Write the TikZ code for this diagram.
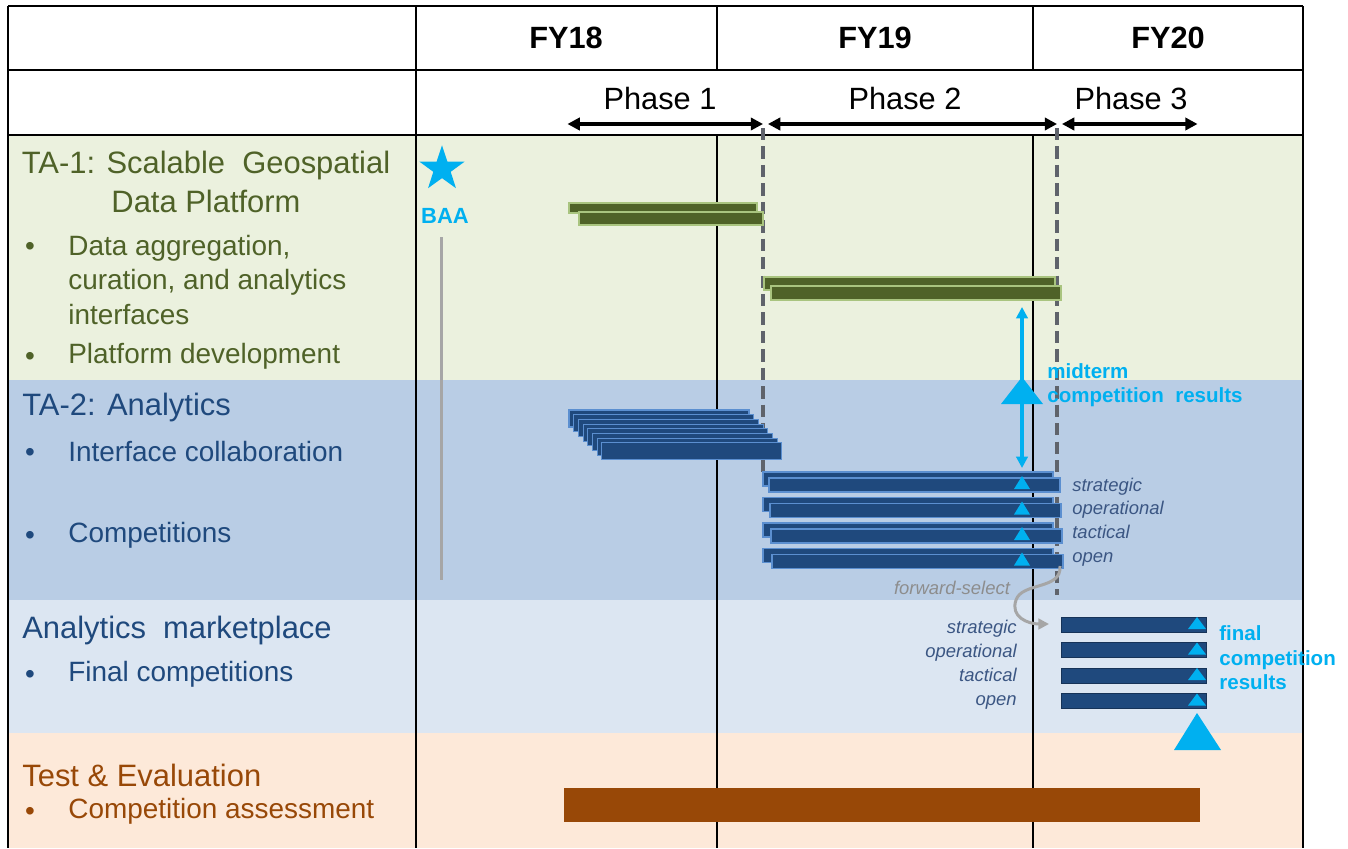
\documentclass[tikz,border=0pt]{standalone}
\usepackage{fontspec}
\setmainfont{Liberation Sans}
\usetikzlibrary{arrows.meta,shapes.geometric}

\definecolor{taGreen}{HTML}{4F6228}
\definecolor{taGreenBg}{HTML}{EBF1DE}
\definecolor{taGreenEdge}{HTML}{A9C47F}
\definecolor{taBlue}{HTML}{1F497D}
\definecolor{taBlueBg}{HTML}{B9CDE5}
\definecolor{taBlueEdge}{HTML}{5B8FD0}
\definecolor{mktBg}{HTML}{DCE6F2}
\definecolor{teBrown}{HTML}{984807}
\definecolor{teBg}{HTML}{FDE9D9}
\definecolor{baaCyan}{HTML}{00B0F0}
\definecolor{trackText}{HTML}{3B5683}
\definecolor{fwdGray}{HTML}{A6A6A6}
\definecolor{phaseDash}{HTML}{5F636B}

\begin{document}
\begin{tikzpicture}[x=0.02cm,y=-0.02cm,
    gridline/.style={line width=0.9pt,black},
    phasearrow/.style={line width=1.8pt,shorten <=1.4pt,shorten >=1.4pt,
      {Triangle[length=7pt,width=7pt]}-{Triangle[length=7pt,width=7pt]}},
    phasedash/.style={line width=1.8pt,phaseDash,dash pattern=on 7pt off 3.5pt},
    greenbar/.style={line width=0.6pt,fill=taGreen,draw=taGreenEdge},
    bluebar/.style={line width=0.6pt,fill=taBlue,draw=taBlueEdge},
    mktbar/.style={line width=0.5pt,fill=taBlue,draw=taBlue!70!black},
    marker/.style={fill=baaCyan},
    heading/.style={anchor=west,inner sep=0pt,font=\fontsize{17.6}{22.7}\selectfont},
    entry/.style={anchor=west,inner sep=0pt,align=left,font=\fontsize{15.9}{19.6}\selectfont},
    dot/.style={inner sep=0pt,yshift=-0.05cm,font=\fontsize{15.9}{19}\selectfont},
    track/.style={inner sep=0pt,text=trackText,font=\fontsize{10.5}{12}\selectfont\itshape},
    note/.style={anchor=west,inner sep=0pt,align=left,text=baaCyan,
      font=\fontsize{11.7}{14}\selectfont\bfseries},
  ]
  \useasboundingbox (0,0) rectangle (1348,848);

  % Row bands
  \fill[white] (0,0) rectangle (1348,848);
  \fill[taGreenBg] (8,135) rectangle (1303,380);
  \fill[taBlueBg] (8,380) rectangle (1303,600);
  \fill[mktBg] (8,600) rectangle (1303,733);
  \fill[teBg] (8,733) rectangle (1303,848);

  % Table grid
  \draw[gridline] (8,6) -- (1303,6);
  \draw[gridline] (8,70) -- (1303,70);
  \draw[gridline,line width=1.2pt] (8,135) -- (1303,135);
  \draw[gridline] (8,6) -- (8,848);
  \draw[gridline] (1303,6) -- (1303,848);
  \draw[gridline] (416,6) -- (416,848);
  \foreach \x in {717,1033} {
    \draw[gridline] (\x,6) -- (\x,70);
    \draw[gridline] (\x,135) -- (\x,848);
  }

  % Fiscal years
  \node[font=\fontsize{17.5}{21}\selectfont\bfseries] (fy18) at (566,38) {FY18};
  \node[font=\fontsize{17.5}{21}\selectfont\bfseries] (fy19) at (875,38) {FY19};
  \node[font=\fontsize{17.5}{21}\selectfont\bfseries] (fy20) at (1168,38) {FY20};

  % Phases and their borders
  \node[font=\fontsize{17.5}{21}\selectfont] (phase1) at (660,99) {Phase 1};
  \node[font=\fontsize{17.5}{21}\selectfont] (phase2) at (905,99) {Phase 2};
  \node[font=\fontsize{17.5}{21}\selectfont] (phase3) at (1131,99) {Phase 3};
  \coordinate (b0) at (565,124);
  \coordinate (b1) at (765.5,124);
  \coordinate (b2) at (1059.5,124);
  \coordinate (b3) at (1200,124);
  \draw[phasedash] (763,128) -- (763,478);
  \draw[phasedash] (1057,128) -- (1057,595);
  \draw[phasearrow] (b0) -- (b1);
  \draw[phasearrow] (b1) -- (b2);
  \draw[phasearrow] (b2) -- (b3);

  % BAA
  \node[star,star points=5,star point ratio=2.6,fill=baaCyan,minimum size=0.95cm,inner sep=0pt] (star) at (442,169) {};
  \node[note,anchor=center,font=\fontsize{12.5}{15}\selectfont\bfseries] (baa) at (445,216) {BAA};
  \coordinate (baatop) at (441,237);
  \coordinate (baabot) at (441,580);
  \draw[fwdGray,line width=1.7pt] (baatop) -- (baabot);

  % TA-1 bars
  \draw[greenbar] (569,203) rectangle (757,213);
  \draw[greenbar] (579,212) rectangle (763,225);
  \draw[greenbar] (764,277) rectangle (1055,290);
  \draw[greenbar] (771,286) rectangle (1061,300);

  % TA-2 interface collaboration
  \foreach \i in {0,...,7}
    \draw[bluebar] (569+4.7*\i,410+4.7*\i) rectangle ++(180,17);

  % TA-2 competitions
  \foreach \k in {0,...,3} {
    \pgfmathsetmacro{\yy}{472+25.5*\k}
    \draw[bluebar] (763,\yy) rectangle ++(290,14);
    \draw[bluebar] (769+\k,\yy+6) rectangle ++(291,14);
    \fill[marker] (1022,\yy+4) -- (1030,\yy+17) -- (1014,\yy+17) -- cycle;
  }

  % Midterm results
  \coordinate (midtop) at (1022,307);
  \coordinate (midbot) at (1022,468);
  \draw[baaCyan,line width=1.8pt,{Triangle[length=6.5pt,width=6.5pt]}-{Triangle[length=6.5pt,width=6.5pt]}] (midtop) -- (midbot);
  \fill[marker] (1022,377) -- (1043,404) -- (1001,404) -- cycle;
  \node[note] (midnote) at (1047,385) {midterm\\competition\ \ results};

  % Marketplace bars
  \foreach \k in {0,...,3} {
    \pgfmathsetmacro{\yy}{617+25.5*\k}
    \draw[mktbar] (1061,\yy) rectangle ++(145,15);
    \fill[marker] (1197,\yy) -- (1206,\yy+12) -- (1188,\yy+12) -- cycle;
  }
  \fill[marker] (1197,713) -- (1221,750) -- (1174,750) -- cycle;
  \node[note] (finalnote) at (1219,658) {final\\competition\\results};

  % Track names
  \foreach \name [count=\k from 0] in {strategic,operational,tactical,open} {
    \node[track,anchor=base west] (ta2-\name) at (1072,491+23.7*\k) {\name};
    \node[track,anchor=base east] (mkt-\name) at (1017,633+24*\k) {\name};
  }

  % Forward selection
  \node[track,anchor=base,text=fwdGray!85!black] (fwd) at (952,594) {forward-select};
  \coordinate (fwdstart) at (1060,566);
  \coordinate (fwdend) at (1049,624);
  \draw[fwdGray,line width=1.7pt,-{Triangle[length=6pt,width=6pt]}]
    (fwdstart) .. controls (1062,590) and (1022,582) .. (1016,600)
    .. controls (1010,617) and (1028,624) .. (fwdend);

  % Test & Evaluation bar
  \fill[teBrown] (564,788) rectangle (1200,822);

  % Row titles
  \node[heading,anchor=center,align=center,text=taGreen] (ta1) at (206,182) {TA-1: Scalable\ \ Geospatial\\Data Platform};
  \node[dot,text=taGreen] (dot1) at (30,246) {•};
  \node[entry,text=taGreen] (ta1a) at (68,280) {Data aggregation,\\curation, and analytics\\interfaces};
  \node[dot,text=taGreen] (dot2) at (30,356) {•};
  \node[entry,text=taGreen] (ta1b) at (68,356) {Platform development};

  \node[heading,text=taBlue] (ta2) at (22,408) {TA-2: Analytics};
  \node[dot,text=taBlue] (dot3) at (30,452) {•};
  \node[entry,text=taBlue] (ta2a) at (68,452) {Interface collaboration};
  \node[dot,text=taBlue] (dot4) at (30,535) {•};
  \node[entry,text=taBlue] (ta2b) at (68,535) {Competitions};

  \node[heading,text=taBlue] (mkt) at (22,630) {Analytics\ \ marketplace};
  \node[dot,text=taBlue] (dot5) at (30,674) {•};
  \node[entry,text=taBlue] (mkta) at (68,674) {Final competitions};

  \node[heading,text=teBrown] (te) at (22,775) {Test \& Evaluation};
  \node[dot,text=teBrown] (dot6) at (30,811) {•};
  \node[entry,text=teBrown] (tea) at (68,811) {Competition assessment};
\end{tikzpicture}
\end{document}
